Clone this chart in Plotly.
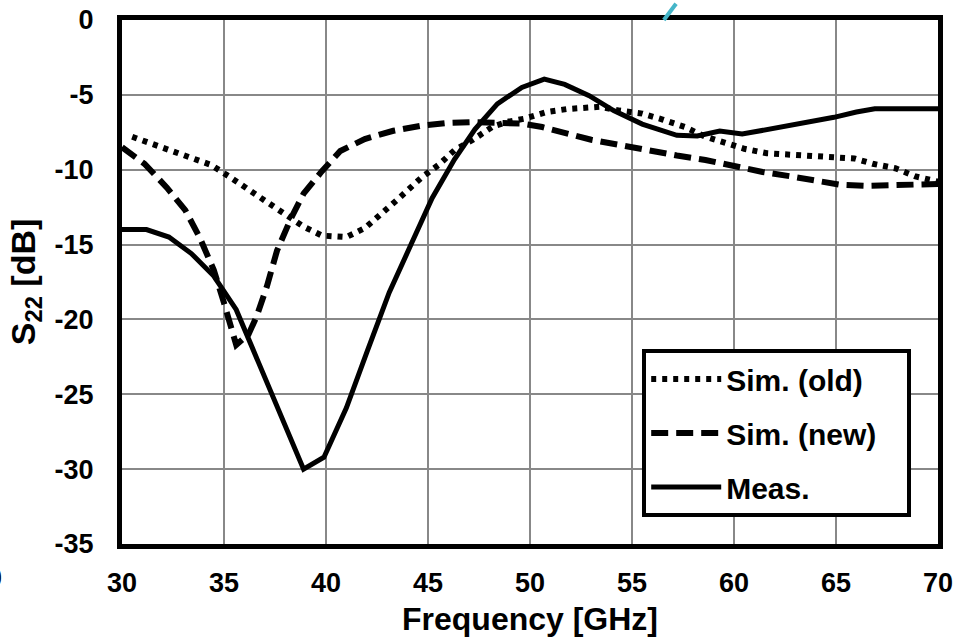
import plotly.graph_objects as go

# ---- data ----
old_f = [30.5, 31.5, 32.5, 33.4, 34.4, 35.3, 36.3, 37.2, 38.1, 38.9, 39.8, 40.4, 41.0, 41.9,
         42.7, 43.5, 44.7, 45.5, 46.3, 47.2, 48.2, 48.9, 49.7, 50.8, 51.8, 52.8, 53.4, 54.4,
         55.5, 56.5, 57.6, 58.6, 59.5, 60.5, 61.6, 62.6, 63.7, 64.7, 65.9, 66.8, 67.9, 68.9, 70.0]
old_db = [-7.8, -8.3, -8.8, -9.3, -9.7, -10.5, -11.4, -12.2, -13.0, -13.8, -14.4, -14.5, -14.5, -13.9,
          -13.0, -12.0, -10.5, -9.7, -8.7, -8.0, -7.1, -6.8, -6.6, -6.15, -5.95, -5.8, -5.8, -6.05,
          -6.25, -6.65, -7.15, -7.8, -8.15, -8.6, -8.9, -9.0, -9.05, -9.15, -9.25, -9.6, -9.9, -10.45, -10.8]

new_f = [30.0, 31.1, 32.2, 33.1, 33.8, 34.5, 35.0, 35.6, 36.2, 36.6, 37.1, 37.6, 38.3, 38.9,
         39.8, 40.7, 41.9, 43.3, 44.7, 45.9, 47.1, 48.3, 49.6, 50.6, 51.8, 53.0, 54.4, 55.8,
         57.2, 58.6, 60.0, 61.4, 62.8, 64.2, 65.2, 66.6, 68.0, 70.0]
new_db = [-8.5, -9.6, -11.2, -12.7, -14.5, -16.7, -18.9, -21.7, -21.0, -19.8, -17.8, -15.4, -13.2, -11.6,
          -10.1, -8.75, -7.95, -7.4, -7.05, -6.88, -6.82, -6.82, -6.92, -7.15, -7.6, -8.0, -8.35, -8.75,
          -9.05, -9.35, -9.8, -10.15, -10.45, -10.8, -11.0, -11.08, -11.06, -10.95]

meas_f = [30.0, 31.2, 32.3, 33.4, 34.5, 35.6, 36.7, 37.8, 38.9, 39.9, 41.0, 42.0, 43.1, 44.2,
          45.2, 46.3, 47.3, 48.4, 49.6, 50.7, 51.7, 52.9, 54.1, 55.5, 56.5, 57.2, 58.2, 59.3,
          60.4, 61.5, 62.6, 63.7, 64.9, 66.0, 66.9, 70.0]
meas_db = [-14.0, -14.0, -14.5, -15.6, -17.1, -19.35, -22.9, -26.5, -30.0, -29.2, -25.9, -22.2, -18.2, -14.9,
           -11.9, -9.3, -7.3, -5.6, -4.5, -3.95, -4.3, -5.05, -6.05, -6.95, -7.4, -7.7, -7.75, -7.42,
           -7.62, -7.35, -7.05, -6.8, -6.5, -6.15, -5.93, -5.93]

x_ticks = [30, 35, 40, 45, 50, 55, 60, 65, 70]
y_ticks = [0, -5, -10, -15, -20, -25, -30, -35]
x_ticktext = [str(v) for v in x_ticks]
y_ticktext = [str(v) for v in y_ticks]  # plain hyphen-minus as in the reference

FONT = "Liberation Sans, Arial, sans-serif"
NB = "\u00a0"

fig = go.Figure()
fig.add_trace(go.Scatter(x=old_f, y=old_db, mode="lines", name="Sim. (old)", legendgroup="a",
                         line=dict(color="black", width=6, dash="5px,6px")))
fig.add_trace(go.Scatter(x=new_f, y=new_db, mode="lines", name="Sim. (new)" + NB * 3, legendgroup="b",
                         line=dict(color="black", width=6, dash="17px,8px")))
fig.add_trace(go.Scatter(x=meas_f, y=meas_db, mode="lines", name="Meas.", legendgroup="c",
                         line=dict(color="black", width=5)))

axis_common = dict(showgrid=True, gridcolor="#888888", gridwidth=2, zeroline=False,
                   showline=True, linecolor="black", linewidth=5, mirror=True,
                   ticks="outside", tickcolor="rgba(0,0,0,0)", automargin=False,
                   tickfont=dict(family=FONT, size=27, color="black", weight="bold"))

fig.update_xaxes(range=[30, 70], tickvals=x_ticks, ticktext=x_ticktext, ticklen=11,
                 title=dict(text="Frequency [GHz]", standoff=12,
                            font=dict(family=FONT, size=32, color="black", weight="bold")),
                 **axis_common)
fig.update_yaxes(range=[-35, 0], tickvals=y_ticks, ticktext=y_ticktext, ticklen=18,
                 title=dict(text="S<sub>22</sub> [dB]", standoff=10,
                            font=dict(family=FONT, size=34, color="black", weight="bold")),
                 **axis_common)

fig.update_layout(
    width=972, height=638,
    margin=dict(l=122, r=34, t=20, b=94),
    paper_bgcolor="white", plot_bgcolor="white",
    showlegend=True,
    legend=dict(x=0.6375, y=0.372, xanchor="left", yanchor="top",
                bgcolor="white", bordercolor="black", borderwidth=4,
                tracegroupgap=12, itemwidth=70,
                font=dict(family=FONT, size=30, color="black", weight="bold")),
    shapes=[dict(type="line", xref="paper", yref="paper",
                 x0=0.664, y0=1.0, x1=0.679, y1=1.031,
                 line=dict(color="#45B5C8", width=4))],
    annotations=[dict(text="0", xref="paper", yref="paper", x=-0.144, y=-0.064,
                      xanchor="right", yanchor="middle", showarrow=False,
                      font=dict(family=FONT, size=27, color="black", weight="bold"))],
)

fig.write_html("out.html", config={"displayModeBar": False},
               post_script="document.body.style.margin='0';document.body.style.overflow='hidden';")
